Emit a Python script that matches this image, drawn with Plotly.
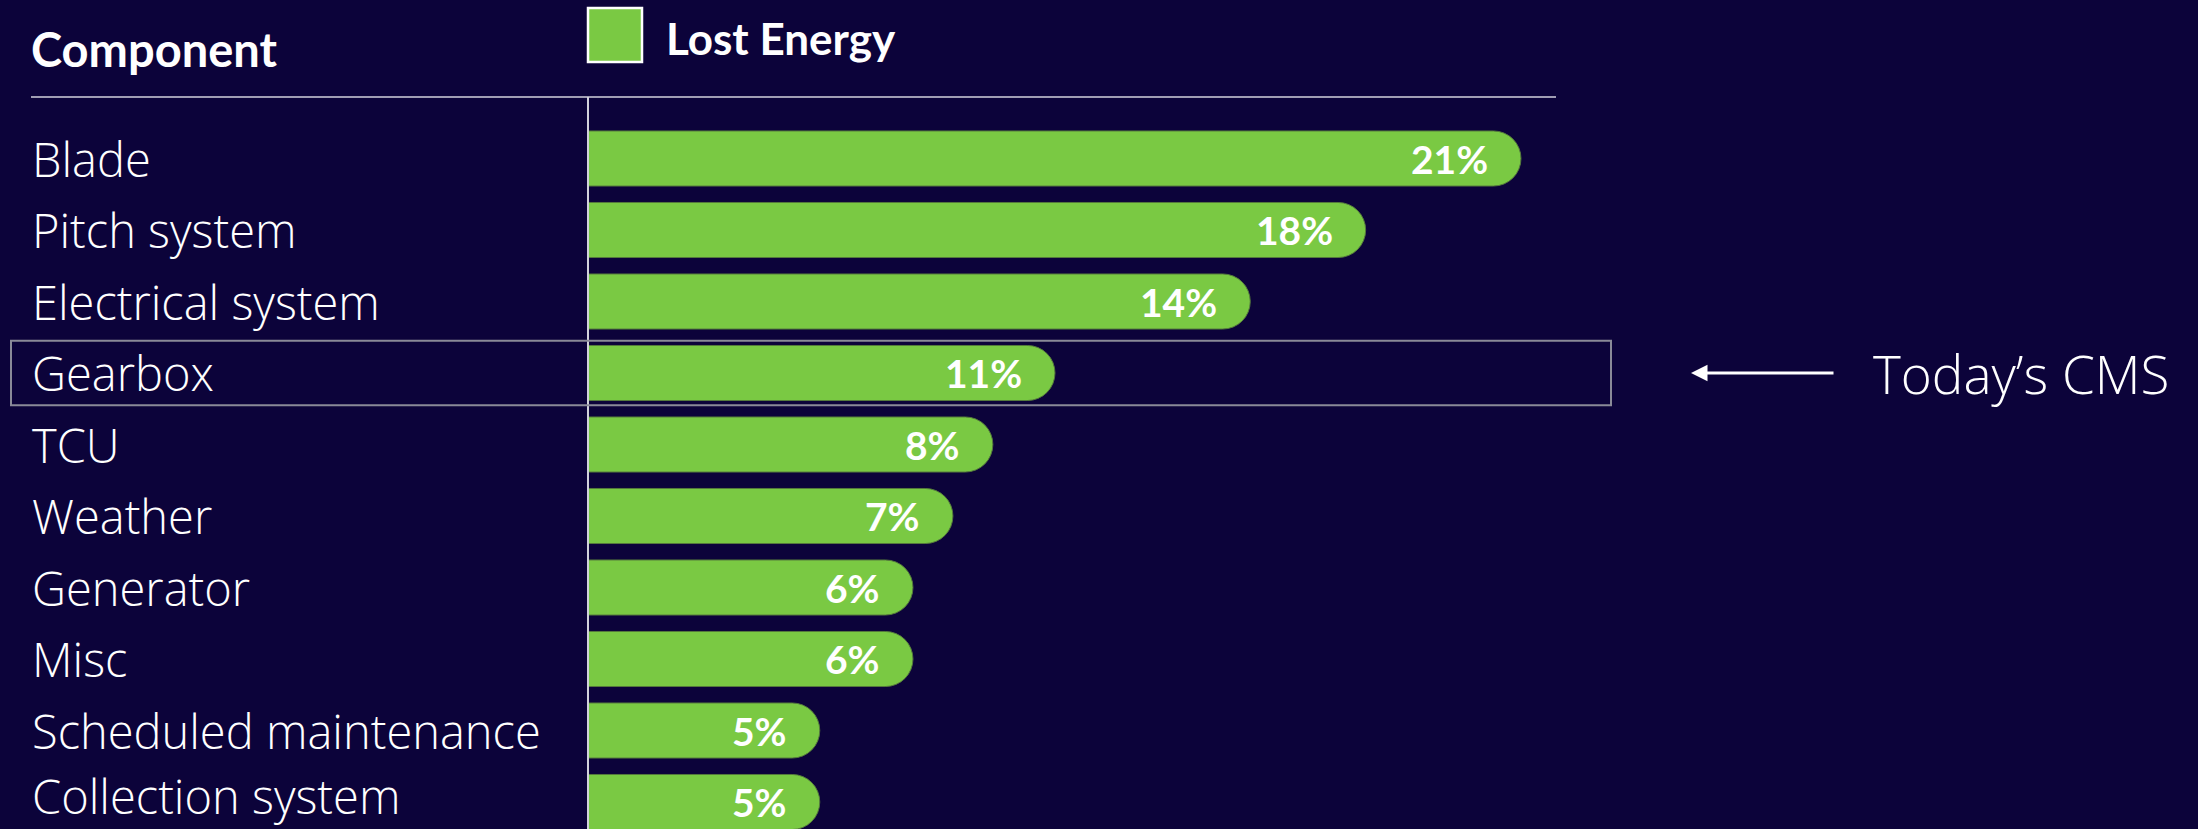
import plotly.graph_objects as go

# ---------------- data ----------------
components = [
    "Blade", "Pitch system", "Electrical system", "Gearbox", "TCU",
    "Weather", "Generator", "Misc", "Scheduled maintenance", "Collection system",
]
# bar lengths as drawn (percentage units)
lost_energy = [21.0, 17.5, 14.9, 10.5, 9.1, 8.2, 7.3, 7.3, 5.2, 5.2]
# labels printed on the bars
lost_energy_labels = ["21%", "18%", "14%", "11%", "8%", "7%", "6%", "6%", "5%", "5%"]
header_label = "Component"
series_name = "Lost Energy"
highlight = "Gearbox"
highlight_note = "Today\u2019s CMS"

# ---------------- styling / layout ----------------
BG = "#0c033a"
GREEN = "#7ac943"
LINE = "#d2d2dc"
BOX = "#8a8a98"

W, H = 2198, 829
ML, MT = 589, 97
PW, PH = W - ML, H - MT
PX_PER_UNIT = 44.38
ROW = 71.5
FIRST_ROW = 158.5


def px(x):
    return (x - ML) / PW


def py(y):
    return (H - y) / PH


y_top = (MT - FIRST_ROW) / ROW
y_bot = (H - FIRST_ROW) / ROW

CAP_BASE = -1  # hides the rounded left caps behind the axis

fig = go.Figure()
fig.add_trace(go.Bar(
    y=components,
    x=[v - CAP_BASE for v in lost_energy],
    base=CAP_BASE,
    orientation="h",
    width=0.77,
    marker=dict(color=GREEN, cornerradius="50%",
                line=dict(color="#557a3c", width=1)),
    name=series_name,
    showlegend=False,
    hoverinfo="skip",
))

annotations = []
label_font = dict(family="Open Sans", size=47, color="white", weight=300)
value_font = dict(family="Lato", size=39, color="white", weight=700)

last = len(components) - 1
for i, (name, v, lab) in enumerate(zip(components, lost_energy, lost_energy_labels)):
    annotations.append(dict(
        x=px(30), xref="paper", y=name, yref="y", text=name,
        yshift=6 if i == last else 0,
        xanchor="left", yanchor="middle", showarrow=False, font=label_font,
    ))
    annotations.append(dict(
        x=v, xref="x", y=name, yref="y", text=lab, xshift=-31,
        xanchor="right", yanchor="middle", showarrow=False, font=value_font,
    ))

annotations += [
    dict(x=px(29), xref="paper", y=py(49), yref="paper", text=header_label,
         xanchor="left", yanchor="middle", showarrow=False,
         font=dict(family="Lato", size=47, color="white", weight=700)),
    dict(x=px(664), xref="paper", y=py(38), yref="paper", text=series_name,
         xanchor="left", yanchor="middle", showarrow=False,
         font=dict(family="Lato", size=44, color="white", weight=700)),
    dict(x=px(1691), xref="paper", y=highlight, yref="y", text="",
         showarrow=True, ax=144, ay=0, axref="pixel", ayref="pixel",
         arrowhead=2, arrowsize=1.1, arrowwidth=3, arrowcolor="white", standoff=0),
    dict(x=px(1871), xref="paper", y=highlight, yref="y", text=highlight_note,
         xanchor="left", yanchor="middle", showarrow=False,
         font=dict(family="Open Sans", size=53, color="white", weight=300)),
]

hi = components.index(highlight)
shapes = [
    dict(type="line", xref="paper", yref="paper", x0=px(31), x1=px(1556),
         y0=py(97), y1=py(97), line=dict(color=LINE, width=1.5)),
    dict(type="rect", xref="paper", yref="y", x0=px(11), x1=px(1611),
         y0=hi - 0.45, y1=hi + 0.45, line=dict(color=BOX, width=2)),
    dict(type="rect", xref="paper", yref="paper", x0=px(588), x1=px(642),
         y0=py(62), y1=py(8), fillcolor=GREEN, line=dict(color="white", width=2.5)),
]

fig.update_layout(
    width=W, height=H,
    margin=dict(l=ML, r=0, t=MT, b=0),
    paper_bgcolor=BG, plot_bgcolor=BG,
    xaxis=dict(range=[0, PW / PX_PER_UNIT], visible=False, fixedrange=True),
    yaxis=dict(range=[y_bot, y_top], showline=True, linecolor=LINE, linewidth=2,
               showticklabels=False, showgrid=False, zeroline=False, ticks="",
               fixedrange=True),
    bargap=0.23,
    annotations=annotations,
    shapes=shapes,
)

fig.write_html(
    "out.html",
    config={"displayModeBar": False, "staticPlot": True},
    post_script="document.body.style.margin='0';document.body.style.padding='0';"
                "document.body.style.overflow='hidden';"
                "document.body.style.background='" + BG + "';",
)
